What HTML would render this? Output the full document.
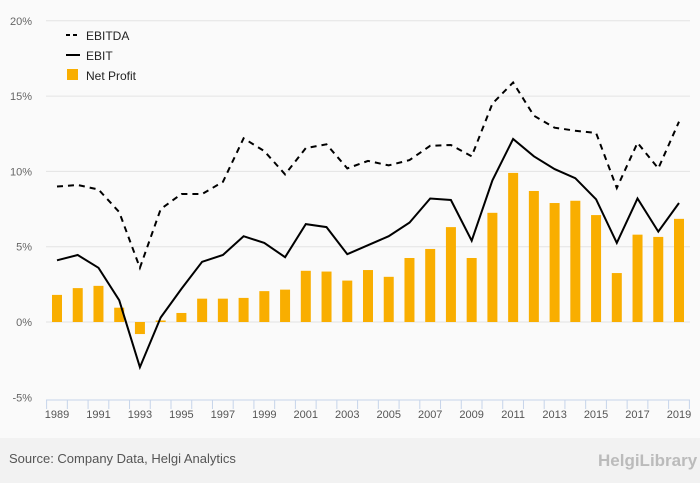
<!DOCTYPE html>
<html><head><meta charset="utf-8"><style>
body{margin:0;background:#fafafa;font-family:"Liberation Sans",sans-serif;}
svg{display:block}
</style></head><body>
<svg width="700" height="483" id="c">
<rect x="0" y="0" width="700" height="483" fill="#fafafa"/>
<rect x="0" y="438" width="700" height="45" fill="#f2f2f2"/>
<text x="9" y="463" font-size="13" fill="#555">Source: Company Data, Helgi Analytics</text>
<text x="598" y="466" font-size="17" font-weight="bold" fill="#bbb">HelgiLibrary</text>
<g>
<line x1="66" y1="35" x2="80" y2="35" stroke="#000" stroke-width="2" stroke-dasharray="4,3"/>
<text x="86" y="40" font-size="12" fill="#222">EBITDA</text>
<line x1="66" y1="55" x2="80" y2="55" stroke="#000" stroke-width="2"/>
<text x="86" y="60" font-size="12" fill="#222">EBIT</text>
<rect x="67" y="69" width="11" height="11" fill="#f9ae00"/>
<text x="86" y="80" font-size="12" fill="#222">Net Profit</text>
</g>
<g id="grid"></g><g id="bars"></g><g id="lines"></g><g id="axis"></g>
</svg>
<script>
const years=[1989,1990,1991,1992,1993,1994,1995,1996,1997,1998,1999,2000,2001,2002,2003,2004,2005,2006,2007,2008,2009,2010,2011,2012,2013,2014,2015,2016,2017,2018,2019];
const ebitda=[9.0,9.1,8.8,7.3,3.6,7.5,8.5,8.5,9.3,12.2,11.35,9.8,11.55,11.8,10.2,10.7,10.4,10.75,11.7,11.75,11.0,14.5,15.9,13.7,12.9,12.7,12.55,8.9,11.9,10.2,13.3];
const ebit=[4.1,4.45,3.6,1.45,-3.0,0.3,2.2,4.0,4.45,5.7,5.25,4.3,6.5,6.3,4.5,5.1,5.7,6.6,8.2,8.1,5.4,9.4,12.15,11.0,10.15,9.55,8.15,5.25,8.2,6.0,7.9];
const netProfit=[1.8,2.25,2.4,0.95,-0.8,0.1,0.6,1.55,1.55,1.6,2.05,2.15,3.4,3.35,2.75,3.45,3.0,4.25,4.85,6.3,4.25,7.25,9.9,8.7,7.9,8.05,7.1,3.25,5.8,5.65,6.85];
const yTicks=[-5,0,5,10,15,20];
const NS="http://www.w3.org/2000/svg";
const X=i=>57+i*(622/30);
const Y=v=>322-v*15.06;
function mk(t,a,p){const e=document.createElementNS(NS,t);for(const k in a)e.setAttribute(k,a[k]);document.getElementById(p).appendChild(e);return e;}
yTicks.forEach(v=>{
  if(v>-5){const l=mk('line',{x1:46,x2:690,y1:Y(v),y2:Y(v),stroke:'#e3e3e3','stroke-width':1},'grid');
  
  }
  const t=mk('text',{x:32,y:Y(v)+4,'font-size':11,fill:'#666','text-anchor':'end'},'grid');
  t.textContent=v+'%';
  
  
});
netProfit.forEach((v,i)=>{
  const r=mk('rect',{x:X(i)-5,y:Math.min(Y(v),Y(0)),width:10,height:Math.abs(Y(v)-Y(0)),fill:'#f9ae00'},'bars');
  
  
});
const pts=a=>a.map((v,i)=>X(i).toFixed(1)+','+Y(v).toFixed(1)).join(' ');
const l1=mk('polyline',{points:pts(ebitda),fill:'none',stroke:'#000','stroke-width':2,'stroke-dasharray':'6,5'},'lines');


const l2=mk('polyline',{points:pts(ebit),fill:'none',stroke:'#000','stroke-width':2},'lines');


const ax=mk('line',{x1:46,x2:690,y1:400,y2:400,stroke:'#c6d4ea','stroke-width':1},'axis');


years.forEach((y,i)=>{
  const tk=mk('line',{x1:X(i)-10.4,x2:X(i)-10.4,y1:400,y2:409,stroke:'#c6d4ea'},'axis');
  
  
  if(i%2===0){const t=mk('text',{x:X(i),y:418,'font-size':11,fill:'#555','text-anchor':'middle'},'axis');
  t.textContent=y;
  
  }
});
const te=mk('line',{x1:X(30)+10.4,x2:X(30)+10.4,y1:400,y2:409,stroke:'#c6d4ea'},'axis');


</script>
</body></html>
